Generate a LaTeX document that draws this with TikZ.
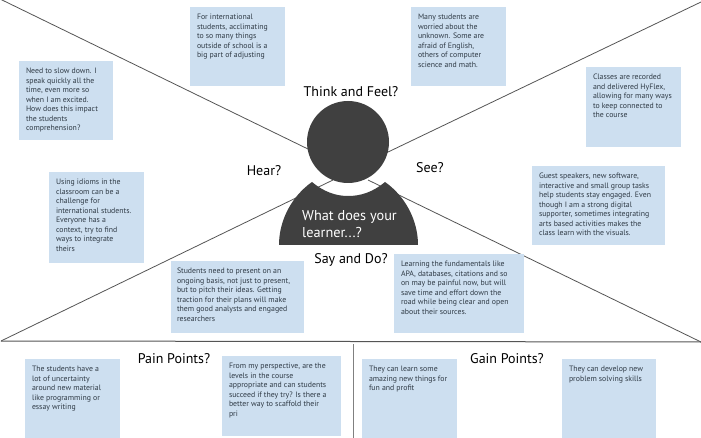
\documentclass[tikz,border=0pt]{standalone}
\usepackage{fontspec}
\setmainfont{PT Sans}
\definecolor{note}{HTML}{CDDFF0}
\definecolor{notetext}{HTML}{2F3A45}
\definecolor{dark}{HTML}{404040}
\definecolor{rulec}{HTML}{555555}
\tikzset{
  x=1pt,y=-1pt,
  notetxt/.style={anchor=north west,inner sep=0pt,outer sep=0pt,text=notetext,align=left,font=\fontsize{7.8}{9.55}\selectfont},
  heading/.style={inner sep=0pt,text=black,font=\fontsize{14}{16}\selectfont},
  divider/.style={draw=rulec,line width=0.8pt}
}
\newcommand{\notecard}[7]{% name x0 y0 x1 y1 textinset text
  \fill[note] (#2,#3) rectangle (#4,#5);
  \node[notetxt] (#1) at (#2+#6,#3+7) {#7};
}
\begin{document}
\begin{tikzpicture}
\useasboundingbox (0,0) rectangle (701,438);
\fill[white] (0,0) rectangle (701,438);
\coordinate (tl) at (0,-1);
\coordinate (tr) at (701,2);
\coordinate (ml) at (1,341);
\coordinate (mr) at (701,342);
\coordinate (cl) at (333,180);
\coordinate (cr) at (368,180);
\coordinate (hl) at (310,150);
\coordinate (hr) at (386,153);
\coordinate (vt) at (353,344);
\coordinate (vb) at (353,438);
\draw[divider] (tl) -- (hl);
\draw[divider] (tr) -- (hr);
\draw[divider] (ml) -- (cl);
\draw[divider] (mr) -- (cr);
\draw[divider,line width=1pt] (ml) -- (mr);
\draw[divider,draw=gray,line width=1pt] (vt) -- (vb);
\fill[dark] (348,142) circle[radius=41];
\fill[dark] (312,182) .. controls (324,192) and (336,196) .. (348,196) .. controls (361,196) and (373,192) .. (385,182) .. controls (405,196) and (418,220) .. (418,245) -- (279,245) .. controls (279,220) and (292,196) .. (312,182) -- cycle;
\node[heading] (think) at (351,92) {Think and Feel?};
\node[heading] (hear) at (264,171) {Hear?};
\node[heading] (see) at (430,168) {See?};
\node[heading] (say) at (351,260) {Say and Do?};
\node[heading] (pain) at (174,359) {Pain Points?};
\node[heading] (gain) at (507,359) {Gain Points?};
\node[heading,text=white,align=left,anchor=west,font=\fontsize{14.3}{16.5}\selectfont] (what) at (302,224) {What does your\\learner...?};
\notecard{n1}{19}{61}{113}{140}{7}{Need to slow down. I\\speak quickly all the\\time, even more so\\when I am excited.\\How does this impact\\the students\\comprehension?}
\notecard{n2}{190}{7}{285}{86}{7}{For international\\students, acclimating\\to so many things\\outside of school is a\\big part of adjusting}
\notecard{n3}{411}{7}{506}{86}{7}{Many students are\\worried about the\\unknown. Some are\\afraid of English,\\others of computer\\science and math.}
\notecard{n4}{586}{67}{681}{147}{7}{Classes are recorded\\and delivered HyFlex,\\allowing for many ways\\to keep connected to\\the course}
\notecard{n5}{532}{166}{665}{245}{7}{Guest speakers, new software,\\interactive and small group tasks\\help students stay engaged. Even\\though I am a strong digital\\supporter, sometimes integrating\\arts based activities makes the\\class learn with the visuals.}
\notecard{n6}{49}{172}{144}{263}{7}{Using idioms in the\\classroom can be a\\challenge for\\international students.\\Everyone has a\\context, try to find\\ways to integrate\\theirs}
\notecard{n7}{171}{261}{304}{333}{6}{Students need to present on an\\ongoing basis, not just to present,\\but to pitch their ideas. Getting\\traction for their plans will make\\them good analysts and engaged\\researchers}
\notecard{n8}{394}{254}{524}{333}{7}{Learning the fundamentals like\\APA, databases, citations and so\\on may be painful now, but will\\save time and effort down the\\road while being clear and open\\about their sources.}
\notecard{n9}{25}{359}{120}{438}{7}{The students have a\\lot of uncertainty\\around new material\\like programming or\\essay writing}
\notecard{n10}{222}{356}{341}{436}{7}{From my perspective, are the\\levels in the course\\appropriate and can students\\succeed if they try? Is there a\\better way to scaffold their\\pri}
\notecard{n11}{362}{359}{457}{438}{7}{They can learn some\\amazing new things for\\fun and profit}
\notecard{n12}{562}{359}{656}{438}{7}{They can develop new\\problem solving skills}
\end{tikzpicture}
\end{document}
